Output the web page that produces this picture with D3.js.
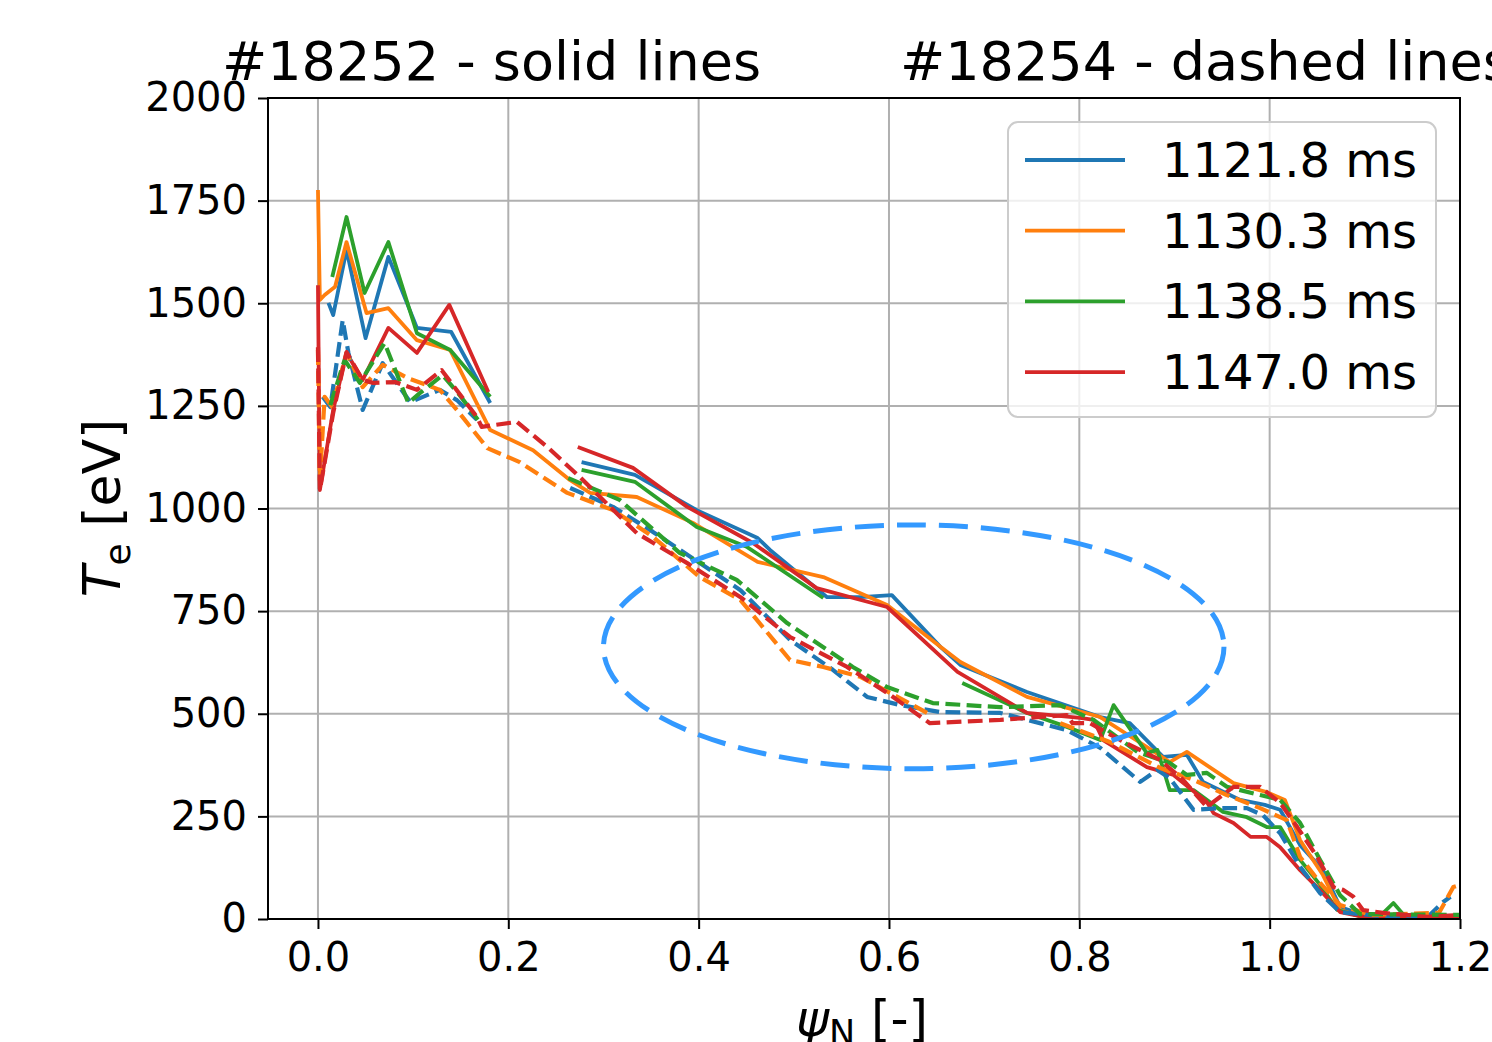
<!DOCTYPE html>
<html>
<head>
<meta charset="utf-8">
<script src="https://cdn.jsdelivr.net/npm/d3@7"></script>
<style>
body { margin: 0; background: #fff; }
svg { display: block; font-family: 'DejaVu Sans', sans-serif; }
</style>
</head>
<body>
<svg id="canvas"></svg>
<script>
const legendLabels = ['1121.8 ms', '1130.3 ms', '1138.5 ms', '1147.0 ms']
const colors = ['#1f77b4', '#ff7f0e', '#2ca02c', '#d62728']
const titles = ['#18252 - solid lines', '#18254 - dashed lines']
const xTicks = [0, 0.2, 0.4, 0.6, 0.8, 1.0, 1.2]
const yTicks = [0, 250, 500, 750, 1000, 1250, 1500, 1750, 2000]

// #18252, solid lines (null = gap in the profile)
const psiBlueSolid = [0.011, 0.016, 0.030, 0.050, 0.074, 0.104, 0.140, 0.181, 0.23, 0.277, 0.333, 0.398, 0.462, 0.475, 0.535, 0.570, 0.603, 0.654, 0.675, 0.745, 0.822, 0.853, 0.888, 0.913, 0.930, 0.969, 0.995, 1.011, 1.032, 1.056, 1.074, 1.092, 1.116, 1.158, 1.200]
const teBlueSolid = [1501, 1471, 1630, 1415, 1613, 1440, 1430, 1257, null, 1113, 1082, 996, 928, 899, 784, 784, 789, 663, 619, 553, 492, 477, 395, 400, 334, 290, 278, 266, 180, 119, 29, 15, 10, 10, 7]

const psiOrangeSolid = [0.000, 0.002, 0.007, 0.018, 0.030, 0.051, 0.074, 0.104, 0.139, 0.181, 0.226, 0.265, 0.286, 0.335, 0.394, 0.462, 0.531, 0.598, 0.654, 0.675, 0.745, 0.822, 0.871, 0.895, 0.913, 0.962, 0.997, 1.016, 1.032, 1.056, 1.074, 1.095, 1.200]
const teOrangeSolid = [1776, 1508, 1520, 1540, 1649, 1476, 1488, 1410, 1386, 1191, 1142, 1069, 1038, 1028, 965, 870, 833, 765, 663, 626, 541, 492, 419, 382, 407, 331, 309, 290, 192, 107, 22, 7, 5]

const psiGreenSolid = [0.015, 0.030, 0.049, 0.074, 0.104, 0.139, 0.181, 0.23, 0.277, 0.333, 0.398, 0.451, 0.531, 0.60, 0.677, 0.745, 0.787, 0.822, 0.836, 0.871, 0.882, 0.895, 0.920, 0.951, 0.976, 0.997, 1.011, 1.032, 1.053, 1.071, 1.095, 1.116, 1.130, 1.142, 1.200]
const teGreenSolid = [1564, 1710, 1525, 1649, 1427, 1386, 1272, null, 1094, 1065, 955, 906, 782, null, 575, 502, 468, 436, 521, 404, 412, 314, 314, 261, 248, 224, 224, 144, 83, 22, 7, 7, 39, 7, 5]

const psiRedSolid = [0.000, 0.002, 0.016, 0.030, 0.047, 0.074, 0.104, 0.138, 0.179, 0.23, 0.273, 0.331, 0.388, 0.457, 0.524, 0.598, 0.672, 0.745, 0.801, 0.815, 0.825, 0.871, 0.899, 0.934, 0.941, 0.962, 0.980, 0.997, 1.011, 1.032, 1.056, 1.074, 1.095, 1.200]
const teRedSolid = [1544, 1045, 1240, 1379, 1313, 1440, 1379, 1496, 1284, null, 1150, 1099, 1004, 916, 806, 760, 602, 502, 490, 485, 436, 370, 351, 285, 258, 234, 200, 200, 175, 119, 63, 17, 7, 5]

// #18254, dashed lines
const psiBlueDashed = [0.005, 0.013, 0.026, 0.032, 0.047, 0.068, 0.097, 0.128, 0.146, 0.167, 0.22, 0.265, 0.310, 0.352, 0.444, 0.496, 0.541, 0.577, 0.612, 0.654, 0.717, 0.787, 0.822, 0.864, 0.882, 0.895, 0.920, 0.948, 0.976, 0.993, 1.011, 1.032, 1.053, 1.074, 1.116, 1.166, 1.182, 1.190]
const teBlueDashed = [1272, 1247, 1459, 1379, 1240, 1354, 1259, 1289, 1264, 1216, null, 1050, 1004, 943, 801, 680, 607, 541, 521, 504, 502, 460, 417, 334, 363, 343, 266, 270, 270, 253, 209, 127, 63, 17, 7, 5, 41, 54]

const psiOrangeDashed = [0.000, 0.002, 0.007, 0.015, 0.030, 0.047, 0.068, 0.094, 0.128, 0.146, 0.178, 0.212, 0.262, 0.310, 0.352, 0.401, 0.444, 0.496, 0.531, 0.570, 0.601, 0.640, 0.71, 0.780, 0.832, 0.885, 0.920, 0.955, 0.990, 1.018, 1.032, 1.053, 1.074, 1.106, 1.178, 1.193, 1.200]
const teOrangeDashed = [1386, 1069, 1272, 1247, 1379, 1296, 1350, 1318, 1289, 1240, 1147, 1113, 1038, 996, 931, 833, 777, 631, 614, 590, 551, 502, null, 477, 431, 368, 339, 302, 270, 241, 151, 88, 34, 10, 15, 78, 83]

const psiGreenDashed = [0.013, 0.028, 0.044, 0.070, 0.095, 0.107, 0.131, 0.149, 0.168, 0.22, 0.263, 0.317, 0.380, 0.440, 0.493, 0.562, 0.598, 0.646, 0.717, 0.780, 0.815, 0.861, 0.895, 0.913, 0.934, 0.955, 0.990, 1.011, 1.032, 1.053, 1.074, 1.095, 1.200]
const teGreenDashed = [1252, 1362, 1306, 1403, 1257, 1281, 1325, 1276, 1216, null, 1074, 1021, 892, 826, 721, 614, 565, 526, 516, 521, 485, 407, 380, 351, 356, 322, 302, 290, 234, 144, 58, 12, 10]

const psiRedDashed = [0.000, 0.002, 0.016, 0.030, 0.047, 0.058, 0.081, 0.104, 0.130, 0.167, 0.172, 0.209, 0.241, 0.275, 0.335, 0.388, 0.444, 0.496, 0.556, 0.598, 0.643, 0.717, 0.787, 0.793, 0.811, 0.843, 0.885, 0.909, 0.934, 0.962, 0.990, 1.011, 1.029, 1.050, 1.067, 1.077, 1.088, 1.098, 1.119, 1.166, 1.200]
const teRedDashed = [1393, 1045, 1233, 1381, 1313, 1306, 1308, 1289, 1337, 1223, 1199, 1211, 1150, 1077, 940, 867, 784, 687, 614, 551, 477, 485, 497, 477, 477, 436, 387, 339, 273, 322, 322, 283, 224, 151, 78, 71, 54, 22, 15, 5, 10]

// highlighted region (centre and half-axes in data units)
const ellipseCenter = [0.626, 663]
const ellipseRadius = [0.326, 297]

const width = 1492
const height = 1042
const plot = {left: 268, right: 1460, top: 98, bottom: 919}

const canvas = d3.select('#canvas')
    .attr('width', width)
    .attr('height', height)

const x = d3.scaleLinear().domain([-0.0525, 1.2]).range([plot.left, plot.right])
const y = d3.scaleLinear().domain([0, 2000]).range([plot.bottom, plot.top])

const series = [
    {psi: psiBlueSolid, te: teBlueSolid, color: colors[0], dashed: false},
    {psi: psiOrangeSolid, te: teOrangeSolid, color: colors[1], dashed: false},
    {psi: psiGreenSolid, te: teGreenSolid, color: colors[2], dashed: false},
    {psi: psiRedSolid, te: teRedSolid, color: colors[3], dashed: false},
    {psi: psiBlueDashed, te: teBlueDashed, color: colors[0], dashed: true},
    {psi: psiOrangeDashed, te: teOrangeDashed, color: colors[1], dashed: true},
    {psi: psiGreenDashed, te: teGreenDashed, color: colors[2], dashed: true},
    {psi: psiRedDashed, te: teRedDashed, color: colors[3], dashed: true}
]

canvas.append('defs').append('clipPath').attr('id', 'clip')
    .append('rect')
    .attr('x', plot.left).attr('y', plot.top)
    .attr('width', plot.right - plot.left)
    .attr('height', plot.bottom - plot.top)

// grid
const grid = canvas.append('g')
grid.selectAll('.gx').data(xTicks).enter().append('line')
    .attr('x1', d => x(d)).attr('x2', d => x(d))
    .attr('y1', plot.top).attr('y2', plot.bottom)
    .attr('stroke', '#b0b0b0').attr('stroke-width', 2)
grid.selectAll('.gy').data(yTicks).enter().append('line')
    .attr('x1', plot.left).attr('x2', plot.right)
    .attr('y1', d => y(d)).attr('y2', d => y(d))
    .attr('stroke', '#b0b0b0').attr('stroke-width', 2)

const line = d3.line()
    .defined(d => d[1] !== null)
    .x(d => x(d[0]))
    .y(d => y(d[1]))

canvas.append('g').attr('clip-path', 'url(#clip)')
    .selectAll('path')
    .data(series)
    .enter()
    .append('path')
    .attr('d', s => line(s.psi.map((p, i) => [p, s.te[i]])))
    .attr('fill', 'none')
    .attr('stroke', s => s.color)
    .attr('stroke-width', s => s.dashed ? 4.2 : 3.8)
    .attr('stroke-linejoin', 'round')
    .attr('stroke-dasharray', s => s.dashed ? '14.8,6.4' : null)

canvas.append('ellipse')
    .attr('cx', x(ellipseCenter[0]))
    .attr('cy', y(ellipseCenter[1]))
    .attr('rx', x(ellipseCenter[0] + ellipseRadius[0]) - x(ellipseCenter[0]))
    .attr('ry', y(ellipseCenter[1] - ellipseRadius[1]) - y(ellipseCenter[1]))
    .attr('fill', 'none')
    .attr('stroke', '#3399ff')
    .attr('stroke-width', 5)
    .attr('stroke-dasharray', '29,13')

// axes
const xAxis = canvas.append('g')
    .attr('transform', `translate(0,${plot.bottom})`)
    .call(d3.axisBottom(x).tickValues(xTicks).tickFormat(d3.format('.1f')).tickSize(10).tickSizeOuter(0).tickPadding(14))
const yAxis = canvas.append('g')
    .attr('transform', `translate(${plot.left},0)`)
    .call(d3.axisLeft(y).tickValues(yTicks).tickFormat(d3.format('d')).tickSize(10).tickSizeOuter(0).tickPadding(11))

;[xAxis, yAxis].forEach(ax => {
    ax.select('.domain').remove()
    ax.selectAll('line').attr('stroke', '#000').attr('stroke-width', 2)
    ax.selectAll('text')
        .attr('fill', '#000')
        .style('font-size', '40px')
        .style('font-family', "'DejaVu Sans', sans-serif")
})

canvas.append('rect')
    .attr('x', plot.left).attr('y', plot.top)
    .attr('width', plot.right - plot.left)
    .attr('height', plot.bottom - plot.top)
    .attr('fill', 'none')
    .attr('stroke', '#000')
    .attr('stroke-width', 2)

// legend
const legend = canvas.append('g')
legend.append('rect')
    .attr('x', 1008).attr('y', 122)
    .attr('width', 428).attr('height', 295)
    .attr('rx', 10)
    .attr('fill', '#fff').attr('fill-opacity', 0.8)
    .attr('stroke', '#cccccc').attr('stroke-width', 2)
const rows = legend.selectAll('.row')
    .data(legendLabels)
    .enter()
    .append('g')
    .attr('transform', (d, i) => `translate(0,${160 + i * 70.7})`)
rows.append('line')
    .attr('x1', 1025).attr('x2', 1125)
    .attr('stroke', (d, i) => colors[i])
    .attr('stroke-width', 3.8)
rows.append('text')
    .attr('x', 1162)
    .attr('dy', '0.35em')
    .style('font-size', '48px')
    .text(d => d)

// titles and labels (they run off the edges as in the original figure)
canvas.append('text').attr('x', 222).attr('y', 80).style('font-size', '54px').text(titles[0])
canvas.append('text').attr('x', 900).attr('y', 80).style('font-size', '54px').text(titles[1])

const yLabel = canvas.append('text')
    .attr('transform', 'translate(120,508) rotate(-90)')
    .attr('text-anchor', 'middle')
    .style('font-size', '52px')
yLabel.append('tspan').style('font-style', 'italic').text('T')
yLabel.append('tspan').style('font-size', '36px').attr('dy', 10).text('e')
yLabel.append('tspan').attr('dy', -10).text(' [eV]')

const xLabel = canvas.append('text')
    .attr('x', 862).attr('y', 1036)
    .attr('text-anchor', 'middle')
    .style('font-size', '50px')
xLabel.append('tspan').style('font-style', 'italic').text('ψ')
xLabel.append('tspan').style('font-size', '35px').attr('dy', 9).text('N')
xLabel.append('tspan').attr('dy', -9).text(' [-]')
</script>
</body>
</html>
